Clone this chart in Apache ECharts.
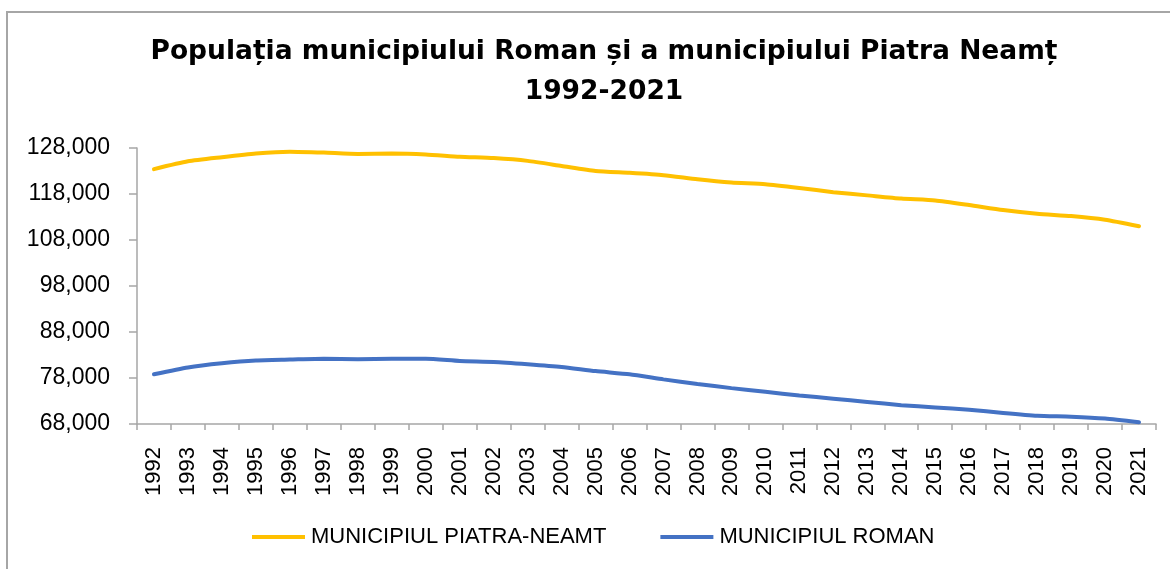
<!DOCTYPE html>
<html>
<head>
<meta charset="utf-8">
<title>Populația municipiului Roman și Piatra Neamț</title>
<script src="https://cdn.jsdelivr.net/npm/echarts@6/dist/echarts.min.js"></script>
<style>
  html, body { margin: 0; padding: 0; background: #fff; }
  #main { width: 1170px; height: 569px; }
</style>
</head>
<body>
<div id="main"></div>
<script>
  // ani
  var years = ['1992', '1993', '1994', '1995', '1996', '1997', '1998', '1999', '2000', '2001',
    '2002', '2003', '2004', '2005', '2006', '2007', '2008', '2009', '2010', '2011',
    '2012', '2013', '2014', '2015', '2016', '2017', '2018', '2019', '2020', '2021']

  // populatie
  var piatraNeamt = [123400, 125100, 126000, 126800, 127200, 127000, 126700, 126800, 126600, 126100,
    125800, 125200, 124100, 123000, 122600, 122100, 121200, 120500, 120100, 119300,
    118400, 117700, 117000, 116600, 115600, 114500, 113700, 113200, 112400, 111000]
  var roman = [78800, 80300, 81200, 81800, 82000, 82200, 82100, 82200, 82200, 81700,
    81500, 81000, 80400, 79500, 78800, 77700, 76700, 75800, 75000, 74200,
    73500, 72800, 72100, 71600, 71100, 70400, 69800, 69600, 69200, 68400]

  var seriesNames = ['MUNICIPIUL PIATRA-NEAMT', 'MUNICIPIUL ROMAN']
  var colors = ['#FFC000', '#4472C4']

  var axisGray = '#a6a6a6'
  var labelFont = 'Liberation Sans, Arial, sans-serif'

  var myChart = echarts.init(document.getElementById('main'), null, { renderer: 'canvas' })

  myChart.setOption({
    animation: false,
    backgroundColor: '#fff',
    color: colors,
    title: {
      text: 'Populația municipiului Roman și a municipiului Piatra Neamț\n1992-2021',
      left: 599,
      top: 27,
      textAlign: 'center',
      textStyle: {
        fontFamily: 'DejaVu Sans, sans-serif',
        fontWeight: 'bold',
        fontSize: 26.5,
        lineHeight: 40,
        color: '#000'
      }
    },
    graphic: [
      {
        // chenarul graficului (taiat in dreapta si jos)
        type: 'polyline',
        silent: true,
        shape: { points: [[7, 620], [7, 12], [1200, 12]] },
        style: { fill: null, stroke: axisGray, lineWidth: 2 }
      }
    ],
    legend: {
      left: 247,
      top: 521,
      itemWidth: 53,
      itemHeight: 4,
      itemGap: 54,
      icon: 'rect',
      data: seriesNames,
      textStyle: {
        fontFamily: labelFont,
        fontSize: 22,
        color: '#000',
        padding: [0, 0, 0, 1]
      }
    },
    grid: {
      left: 137,
      right: 14,
      top: 148,
      bottom: 145,
      containLabel: false
    },
    xAxis: {
      type: 'category',
      data: years,
      boundaryGap: true,
      axisLine: { lineStyle: { color: axisGray, width: 1.5 } },
      axisTick: { show: true, length: 6, alignWithLabel: false, interval: 0, lineStyle: { color: axisGray, width: 1.5 } },
      axisLabel: {
        interval: 0,
        rotate: 90,
        margin: 23,
        fontFamily: labelFont,
        fontSize: 22,
        color: '#000'
      },
      splitLine: { show: false }
    },
    yAxis: {
      type: 'value',
      min: 68000,
      max: 128000,
      interval: 10000,
      axisLine: { show: true, lineStyle: { color: axisGray, width: 1.5 } },
      axisTick: { show: true, length: 8, inside: false, lineStyle: { color: axisGray, width: 1.5 } },
      axisLabel: {
        margin: 27,
        fontFamily: labelFont,
        fontSize: 23,
        color: '#000',
        formatter: function (v) {
          return v.toLocaleString('en-US')
        }
      },
      splitLine: { show: false }
    },
    series: [
      {
        name: seriesNames[0],
        type: 'line',
        data: piatraNeamt,
        smooth: 0.2,
        showSymbol: false,
        lineStyle: { width: 4, color: colors[0], cap: 'round' }
      },
      {
        name: seriesNames[1],
        type: 'line',
        data: roman,
        smooth: 0.2,
        showSymbol: false,
        lineStyle: { width: 4, color: colors[1], cap: 'round' }
      }
    ]
  })

  window.addEventListener('resize', function () {
    myChart.resize()
  })
</script>
</body>
</html>
